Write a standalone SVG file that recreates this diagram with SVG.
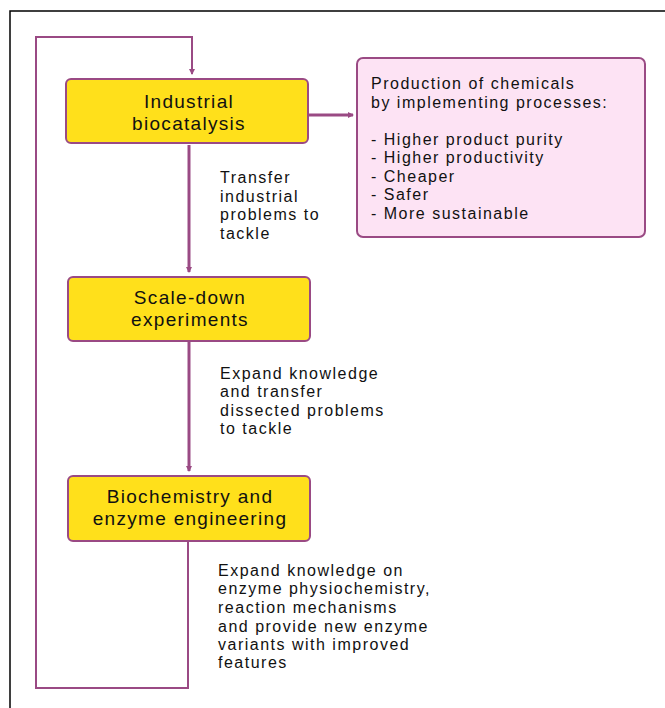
<svg xmlns="http://www.w3.org/2000/svg" width="665" height="708" viewBox="0 0 665 708">
<style>
.box{fill:#FFE01B;stroke:#9A4A84;stroke-width:2}
.pink{fill:#FDE3F4;stroke:#9A4A84;stroke-width:2}
.bt{font-family:"Liberation Sans",Arial,sans-serif;font-size:19px;letter-spacing:1.3px;fill:#111;text-anchor:middle}
.t{font-family:"Liberation Sans",Arial,sans-serif;font-size:16px;letter-spacing:1.5px;fill:#111}
.c{fill:none;stroke:#9A4A84}
</style>
<defs>
<marker id="ah" viewBox="0 0 6 6" refX="5" refY="3" markerWidth="6" markerHeight="6" markerUnits="userSpaceOnUse" orient="auto">
<path d="M0,0 L6,3 L0,6 z" fill="#9A4A84"/>
</marker>
</defs>
<rect width="665" height="708" fill="#fff"/>
<path d="M10,708 V11 H665" fill="none" stroke="#000" stroke-width="1.5"/>
<g id="connectors">
<path class="c" stroke-width="3" d="M189,145 V272" marker-end="url(#ah)"/>
<path class="c" stroke-width="3" d="M189,342 V471" marker-end="url(#ah)"/>
<path class="c" stroke-width="3" d="M309,115 H353" marker-end="url(#ah)"/>
<path class="c" stroke-width="2" d="M188,542 V688 H36 V37 H192 V74" marker-end="url(#ah)"/>
</g>
<g id="n1">
<rect class="box" x="66" y="79" width="242" height="64" rx="5"/>
<text class="bt" x="189" y="108">Industrial</text>
<text class="bt" x="189" y="130">biocatalysis</text>
</g>
<g id="n2">
<rect class="pink" x="357" y="58" width="288" height="179" rx="6"/>
<text class="t" x="371" y="89">Production of chemicals</text>
<text class="t" x="371" y="108">by implementing processes:</text>
<text class="t" x="371" y="145">- Higher product purity</text>
<text class="t" x="371" y="163">- Higher productivity</text>
<text class="t" x="371" y="182">- Cheaper</text>
<text class="t" x="371" y="200">- Safer</text>
<text class="t" x="371" y="219">- More sustainable</text>
</g>
<g id="n3">
<rect class="box" x="68" y="277" width="242" height="64" rx="5"/>
<text class="bt" x="190" y="304">Scale-down</text>
<text class="bt" x="190" y="326">experiments</text>
</g>
<g id="n4">
<rect class="box" x="68" y="476" width="242" height="65" rx="5"/>
<text class="bt" x="190" y="503">Biochemistry and</text>
<text class="bt" x="190" y="525">enzyme engineering</text>
</g>
<g id="l1">
<text class="t" x="220" y="183">Transfer</text>
<text class="t" x="220" y="202">industrial</text>
<text class="t" x="220" y="220">problems to</text>
<text class="t" x="220" y="239">tackle</text>
</g>
<g id="l2">
<text class="t" x="220" y="379">Expand knowledge</text>
<text class="t" x="220" y="397">and transfer</text>
<text class="t" x="220" y="416">dissected problems</text>
<text class="t" x="220" y="434">to tackle</text>
</g>
<g id="l3">
<text class="t" x="218" y="576">Expand knowledge on</text>
<text class="t" x="218" y="594">enzyme physiochemistry,</text>
<text class="t" x="218" y="613">reaction mechanisms</text>
<text class="t" x="218" y="632">and provide new enzyme</text>
<text class="t" x="218" y="650">variants with improved</text>
<text class="t" x="218" y="668">features</text>
</g>
</svg>
